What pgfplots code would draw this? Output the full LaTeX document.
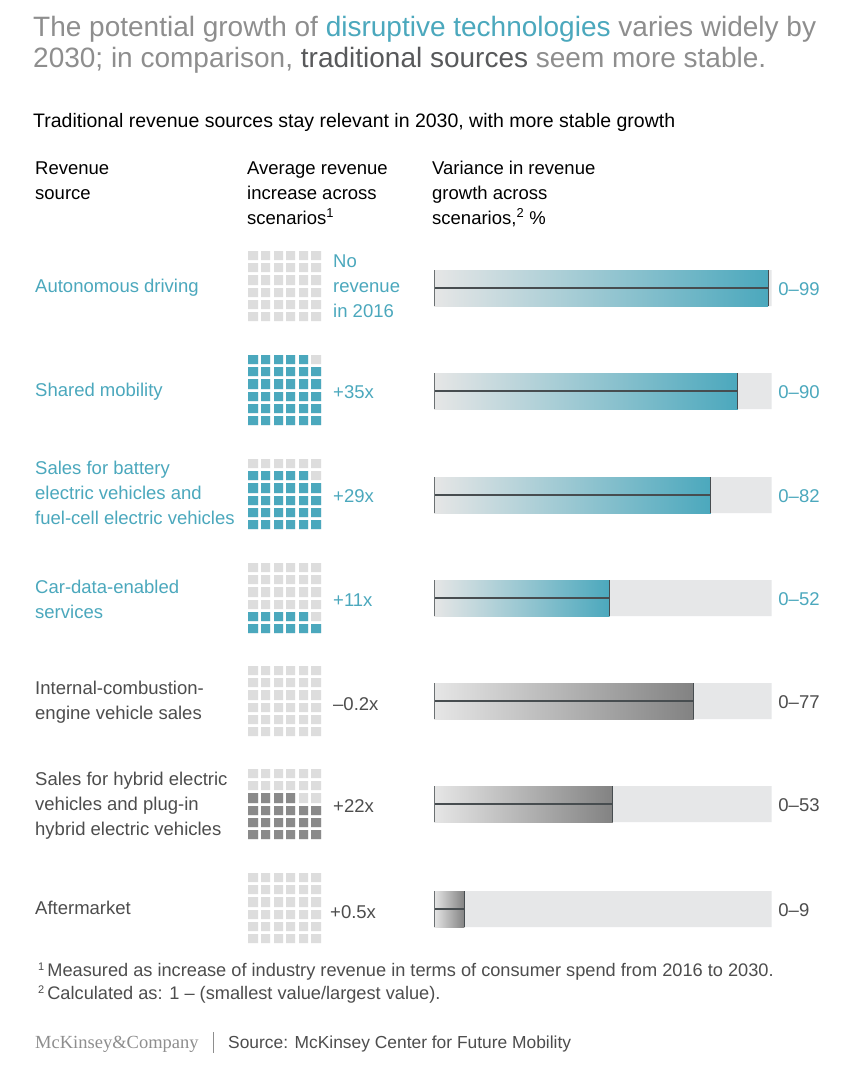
\documentclass[border=0pt]{standalone}
\usepackage{pgfplots}
\pgfplotsset{compat=1.18}
\usepackage{pgfplotstable}
\usepackage{fontspec}
\setmainfont{Liberation Sans}
\newfontfamily\logofont{Liberation Serif}

\definecolor{mckteal}{HTML}{4BA8BD}
\definecolor{cellgrey}{HTML}{DDDDDD}
\definecolor{celldark}{HTML}{8A8A8A}
\definecolor{barback}{HTML}{E6E7E8}
\definecolor{barlight}{HTML}{E6E6E6}
\definecolor{bargreyend}{HTML}{828282}
\definecolor{titlegrey}{HTML}{8E8E8E}
\definecolor{darktext}{HTML}{58595B}
\definecolor{bodytext}{HTML}{4D4D4D}
\definecolor{linedark}{HTML}{474D50}

% waffle cells, bottom row first, left to right
\pgfplotstableread{
c r
0 0
1 0
2 0
3 0
4 0
5 0
0 1
1 1
2 1
3 1
4 1
5 1
0 2
1 2
2 2
3 2
4 2
5 2
0 3
1 3
2 3
3 3
4 3
5 3
0 4
1 4
2 4
3 4
4 4
5 4
0 5
1 5
2 5
3 5
4 5
5 5
}\cells

% grey 6x6 grid centred at #1
\newcommand{\grid}[1]{%
  \addplot[only marks, mark=square*, mark size=4.6pt, color=cellgrey,
    mark options={line width=0.01pt}]
    table[x expr=253+12.6*\thisrow{c}, y expr=#1+30.5-12.2*\thisrow{r}] {\cells};
}
% first #2 cells filled with colour #3
\newcommand{\fillcells}[3]{%
  \addplot[only marks, mark=square*, mark size=4.6pt, color=#3,
    mark options={line width=0.01pt},
    skip coords between index={#2}{36}]
    table[x expr=253+12.6*\thisrow{c}, y expr=#1+30.5-12.2*\thisrow{r}] {\cells};
}
\newcommand{\lbl}[4]{%
  \node[anchor=base west, inner sep=0pt, text=#3,
    font=\fontsize{18.5}{22}\selectfont] at (axis cs:#1,#2) {#4};
}
\newcommand{\fn}[1]{\raisebox{6pt}{\fontsize{11}{11}\selectfont #1}}

\begin{document}
\begin{tikzpicture}
\fill[white] (0,0) rectangle (852pt,1080pt);

\begin{axis}[
  at={(0,0)}, anchor=south west,
  width=852pt, height=1080pt, scale only axis,
  xmin=0, xmax=852, ymin=0, ymax=1080, y dir=reverse,
  hide axis, clip=false,
]
% titles
\node[anchor=base west, inner sep=0pt, text=titlegrey, font=\fontsize{28}{32}\selectfont]
  at (axis cs:33,36) {The potential growth of \textcolor{mckteal}{disruptive technologies} varies widely by};
\node[anchor=base west, inner sep=0pt, text=titlegrey, font=\fontsize{28}{32}\selectfont]
  at (axis cs:33,67) {2030; in comparison, \textcolor{darktext}{traditional sources} seem more stable.};
\node[anchor=base west, inner sep=0pt, text=black, font=\fontsize{19.5}{22}\selectfont]
  at (axis cs:33,127) {Traditional revenue sources stay relevant in 2030, with more stable growth};

% column headers
\lbl{35}{174}{black}{Revenue}
\lbl{35}{199}{black}{source}
\lbl{247}{174}{black}{Average revenue}
\lbl{247}{199}{black}{increase across}
\lbl{247}{224}{black}{scenarios\textsuperscript{1}}
\lbl{432}{174}{black}{Variance in revenue}
\lbl{432}{199}{black}{growth across}
\lbl{432}{224}{black}{scenarios,\textsuperscript{2} \%}

% row labels
\lbl{35}{292}{mckteal}{Autonomous driving}
\lbl{35}{396}{mckteal}{Shared mobility}
\lbl{35}{474}{mckteal}{Sales for battery}
\lbl{35}{499}{mckteal}{electric vehicles and}
\lbl{35}{524}{mckteal}{fuel-cell electric vehicles}
\lbl{35}{593}{mckteal}{Car-data-enabled}
\lbl{35}{618}{mckteal}{services}
\lbl{35}{694}{bodytext}{Internal-combustion-}
\lbl{35}{719}{bodytext}{engine vehicle sales}
\lbl{35}{785}{bodytext}{Sales for hybrid electric}
\lbl{35}{810}{bodytext}{vehicles and plug-in}
\lbl{35}{835}{bodytext}{hybrid electric vehicles}
\lbl{35}{914}{bodytext}{Aftermarket}

% waffles
\grid{286}
\grid{390}
\fillcells{390}{35}{mckteal}
\grid{494}
\fillcells{494}{29}{mckteal}
\grid{598}
\fillcells{598}{11}{mckteal}
\grid{701}
\grid{804}
\fillcells{804}{22}{celldark}
\grid{908}
% half of one cell for +0.5x
\addplot[fill=celldark, draw=none] coordinates {(248.4,938.5) (257.6,938.5) (257.6,943.1) (248.4,943.1)} -- cycle;

% waffle labels
\lbl{333}{267}{mckteal}{No}
\lbl{333}{292}{mckteal}{revenue}
\lbl{333}{317}{mckteal}{in 2016}
\lbl{333}{398}{mckteal}{+35x}
\lbl{333}{502}{mckteal}{+29x}
\lbl{333}{606}{mckteal}{+11x}
\lbl{333}{710}{bodytext}{–0.2x}
\lbl{333}{812}{bodytext}{+22x}
\lbl{330}{918}{bodytext}{+0.5x}

% footnotes
\node[anchor=base west, inner sep=0pt, text=bodytext, font=\fontsize{18.2}{20}\selectfont]
  at (axis cs:38,976) {\fn{1}\,Measured as increase of industry revenue in terms of consumer spend from 2016 to 2030.};
\node[anchor=base west, inner sep=0pt, text=bodytext, font=\fontsize{18.2}{20}\selectfont]
  at (axis cs:38,999) {\fn{2}\,Calculated as: 1 – (smallest value/largest value).};

% footer
\node[anchor=base west, inner sep=0pt, text=titlegrey, font=\logofont\fontsize{18.5}{20}\selectfont]
  at (axis cs:35,1048) {McKinsey\&Company};
\draw[titlegrey, line width=0.8pt] (axis cs:213,1032) -- (axis cs:213,1053);
\node[anchor=base west, inner sep=0pt, text=bodytext, font=\fontsize{17.4}{20}\selectfont]
  at (axis cs:228,1048) {Source: McKinsey Center for Future Mobility};
\end{axis}

% variance bars, 0-100 %
\begin{axis}[
  at={(434pt,0)}, anchor=south west,
  width=337.5pt, height=1080pt, scale only axis,
  xmin=0, xmax=100, ymin=0, ymax=1080, y dir=reverse,
  hide axis, clip=false,
]
\addplot[xbar, bar shift=0pt, bar width=36, draw=none, fill=barback]
  coordinates {(100,288) (100,391) (100,495) (100,598) (100,701) (100,804) (100,909)};

\addplot[xbar, bar shift=0pt, bar width=36, draw=none, left color=barlight, right color=mckteal] coordinates {(99,288)};
\addplot[xbar, bar shift=0pt, bar width=36, draw=none, left color=barlight, right color=mckteal] coordinates {(90,391)};
\addplot[xbar, bar shift=0pt, bar width=36, draw=none, left color=barlight, right color=mckteal] coordinates {(82,495)};
\addplot[xbar, bar shift=0pt, bar width=36, draw=none, left color=barlight, right color=mckteal] coordinates {(52,598)};
\addplot[xbar, bar shift=0pt, bar width=36, draw=none, left color=barlight, right color=bargreyend] coordinates {(77,701)};
\addplot[xbar, bar shift=0pt, bar width=36, draw=none, left color=barlight, right color=bargreyend] coordinates {(53,804)};
\addplot[xbar, bar shift=0pt, bar width=36, draw=none, left color=barlight, right color=bargreyend] coordinates {(9,909)};

% range lines
\addplot[linedark, line width=1.1pt] coordinates {(0,288) (99,288)};
\addplot[linedark, line width=1.1pt] coordinates {(0,391) (90,391)};
\addplot[linedark, line width=1.1pt] coordinates {(0,495) (82,495)};
\addplot[linedark, line width=1.1pt] coordinates {(0,598) (52,598)};
\addplot[linedark, line width=1.1pt] coordinates {(0,701) (77,701)};
\addplot[linedark, line width=1.1pt] coordinates {(0,804) (53,804)};
\addplot[linedark, line width=1.1pt] coordinates {(0,909) (9,909)};
\addplot[linedark, line width=1.1pt] coordinates {(99,270) (99,306)};
\addplot[linedark, line width=1.1pt] coordinates {(90,373) (90,409)};
\addplot[linedark, line width=1.1pt] coordinates {(82,477) (82,513)};
\addplot[linedark, line width=1.1pt] coordinates {(52,580) (52,616)};
\addplot[linedark, line width=1.1pt] coordinates {(77,683) (77,719)};
\addplot[linedark, line width=1.1pt] coordinates {(53,786) (53,822)};
\addplot[linedark, line width=1.1pt] coordinates {(9,891) (9,927)};
\addplot[linedark!80, line width=1pt] coordinates {(0,270) (0,306)};
\addplot[linedark!80, line width=1pt] coordinates {(0,373) (0,409)};
\addplot[linedark!80, line width=1pt] coordinates {(0,477) (0,513)};
\addplot[linedark!80, line width=1pt] coordinates {(0,580) (0,616)};
\addplot[linedark!80, line width=1pt] coordinates {(0,683) (0,719)};
\addplot[linedark!80, line width=1pt] coordinates {(0,786) (0,822)};
\addplot[linedark!80, line width=1pt] coordinates {(0,891) (0,927)};

% range labels
\lbl{102}{295}{mckteal}{0–99}
\lbl{102}{398}{mckteal}{0–90}
\lbl{102}{502}{mckteal}{0–82}
\lbl{102}{605}{mckteal}{0–52}
\lbl{102}{708}{bodytext}{0–77}
\lbl{102}{811}{bodytext}{0–53}
\lbl{102}{916}{bodytext}{0–9}
\end{axis}
\end{tikzpicture}
\end{document}
